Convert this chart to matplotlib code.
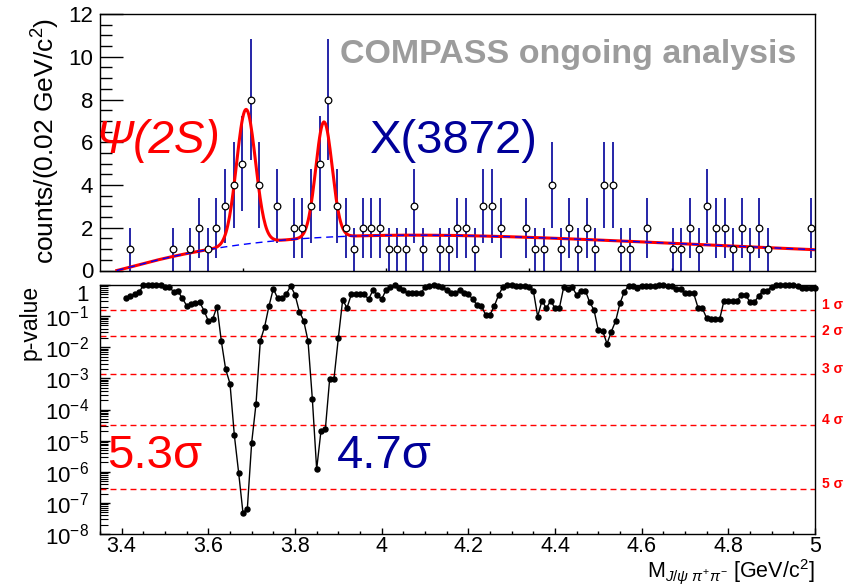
import numpy as np
import matplotlib
matplotlib.use("Agg")
import matplotlib.pyplot as plt
import matplotlib.transforms as mtransforms
from matplotlib.ticker import (FixedLocator, MultipleLocator, LogLocator,
                               NullFormatter, FormatStrFormatter)

plt.rcParams['font.family'] = 'Liberation Sans'
plt.rcParams['mathtext.fontset'] = 'custom'
plt.rcParams['mathtext.rm'] = 'Liberation Sans'
plt.rcParams['mathtext.it'] = 'Liberation Sans:italic'
plt.rcParams['mathtext.bf'] = 'Liberation Sans:bold'

# --- upper panel: J/psi pi+ pi- mass histogram (non-empty bins only) ---
bin_x = [3.42, 3.52, 3.56, 3.58, 3.60, 3.62, 3.64, 3.66, 3.68, 3.70,
         3.72, 3.76, 3.80, 3.82, 3.84, 3.86, 3.88, 3.90, 3.92, 3.94,
         3.96, 3.98, 4.00, 4.02, 4.04, 4.06, 4.08, 4.10, 4.14, 4.16,
         4.18, 4.20, 4.22, 4.24, 4.26, 4.28, 4.34, 4.36, 4.38, 4.40,
         4.42, 4.44, 4.46, 4.48, 4.50, 4.52, 4.54, 4.56, 4.58, 4.62,
         4.68, 4.70, 4.72, 4.74, 4.76, 4.78, 4.80, 4.82, 4.84, 4.86,
         4.88, 4.90, 5.00]
counts = [1, 1, 1, 2, 1, 2, 3, 4, 5, 8,
          4, 3, 2, 2, 3, 5, 8, 3, 2, 1,
          2, 2, 2, 1, 1, 1, 3, 1, 1, 1,
          2, 2, 1, 3, 3, 2, 2, 1, 1, 4,
          1, 2, 1, 2, 1, 4, 4, 1, 1, 2,
          1, 1, 2, 1, 3, 2, 2, 1, 2, 1,
          2, 1, 2]

# fit result: threshold background + two gaussians
bg_threshold = 3.389
bg_par = [7.23, 1.077, 1.559]
psi_par = [6.3, 3.689, 0.022]     # amplitude, mean, sigma
x3872_par = [5.4, 3.870, 0.019]

# --- lower panel: local p-value scan ---
scan_x = np.round(np.arange(3.41, 5.005, 0.01), 2)
p_value = [
    0.374, 0.445, 0.50, 0.58, 0.976, 0.976, 0.976, 0.976, 0.976, 0.885,   # 3.41-3.50
    0.84, 0.61, 0.63, 0.374, 0.218, 0.24, 0.26, 0.28, 0.151, 0.070,       # 3.51-3.60
    0.080, 0.203, 0.0157, 1.95e-3, 6.8e-4, 1.5e-5, 9.2e-7, 4.7e-8, 6.5e-8, 8.6e-6,  # 3.61-3.70
    1.5e-4, 0.0161, 0.046, 0.213, 0.76, 0.374, 0.374, 0.515, 0.93, 0.49,  # 3.71-3.80
    0.140, 0.072, 0.0161, 2.2e-4, 1.2e-6, 2.1e-5, 2.3e-5, 9.6e-4, 9.8e-4, 0.0197,  # 3.81-3.90
    0.33, 0.185, 0.50, 0.50, 0.50, 0.50, 0.348, 0.69, 0.48, 0.348,        # 3.91-4.00
    0.69, 0.885, 0.98, 0.78, 0.69, 0.54, 0.54, 0.54, 0.54, 0.84,          # 4.01-4.10
    0.93, 0.98, 0.93, 0.84, 0.69, 0.54, 0.54, 0.69, 0.54, 0.515,          # 4.11-4.20
    0.348, 0.23, 0.213, 0.11, 0.11, 0.213, 0.48, 0.885, 0.98, 0.98,       # 4.21-4.30
    0.95, 0.93, 0.93, 0.885, 0.66, 0.097, 0.315, 0.179, 0.315, 0.179,     # 4.31-4.40
    0.179, 0.84, 0.73, 0.84, 0.48, 0.66, 0.66, 0.28, 0.158, 0.0346,       # 4.41-4.50
    0.0337, 0.0129, 0.032, 0.070, 0.26, 0.61, 0.95, 0.93, 0.78, 0.93,     # 4.51-4.60
    0.95, 0.95, 0.95, 0.98, 0.98, 0.95, 0.93, 0.745, 0.73, 0.54,          # 4.61-4.70
    0.54, 0.54, 0.188, 0.179, 0.086, 0.082, 0.082, 0.080, 0.315, 0.315,   # 4.71-4.80
    0.315, 0.315, 0.48, 0.48, 0.28, 0.28, 0.445, 0.66, 0.66, 0.885,       # 4.81-4.90
    0.98, 0.98, 0.98, 0.98, 0.98, 0.95, 0.78, 0.78, 0.78, 0.78,           # 4.91-5.00
]
sigma_names = ['1', '2', '3', '4', '5']
sigma_p = [0.1587, 0.02275, 1.35e-3, 3.167e-5, 2.867e-7]

pval_ticks = [1e-8, 1e-7, 1e-6, 1e-5, 1e-4, 1e-3, 1e-2, 1e-1, 1]
pval_labels = [r'$10^{-8}$', r'$10^{-7}$', r'$10^{-6}$', r'$10^{-5}$',
               r'$10^{-4}$', r'$10^{-3}$', r'$10^{-2}$', r'$10^{-1}$', '1']

W, H = 850, 588
fig = plt.figure(figsize=(W / 100, H / 100), dpi=100)
ax1 = fig.add_axes([100 / W, 1 - 270.5 / H, 715 / W, 256.5 / H])
ax2 = fig.add_axes([100 / W, 1 - 534 / H, 715 / W, 249 / H])

def fxy(x, y):
    return x / W, 1 - y / H

# ---- upper panel ----
xb = np.array(bin_x)
nb = np.array(counts, dtype=float)
ax1.errorbar(xb, nb, yerr=np.sqrt(nb), xerr=0.007, fmt='none',
             ecolor='#000099', elinewidth=1.2, capsize=0, zorder=2)

xf = np.linspace(bg_threshold, 5.01, 800)
d = xf - bg_threshold
bg = bg_par[0] * d ** bg_par[1] * np.exp(-bg_par[2] * d)
gpsi = psi_par[0] * np.exp(-0.5 * ((xf - psi_par[1]) / psi_par[2]) ** 2)
gx = x3872_par[0] * np.exp(-0.5 * ((xf - x3872_par[1]) / x3872_par[2]) ** 2)
ax1.plot(xf, bg + gpsi + gx, color='#ff0000', lw=2.2, zorder=3)
ax1.plot(xf, bg, color='#0000ff', lw=1.0, ls=(0, (5, 3.5)), zorder=4)
ax1.plot(xb, nb, 'o', ms=4.8, mfc='white', mec='black', mew=0.9, zorder=5)

ax1.set_xlim(3.35, 5.01)
ax1.set_ylim(0, 12)
ax1.xaxis.set_major_locator(FixedLocator([3.682, 4.014, 4.346, 4.678]))
ax1.xaxis.set_major_formatter(NullFormatter())
ax1.yaxis.set_major_locator(MultipleLocator(2))
ax1.yaxis.set_minor_locator(MultipleLocator(0.5))
ax1.tick_params(axis='y', which='major', direction='in', length=16.5, width=1,
                labelsize=16, pad=5, right=False)
ax1.tick_params(axis='y', which='minor', direction='in', length=8.5, width=1, right=False)
ax1.tick_params(axis='x', which='major', direction='in', length=2.5, width=1, top=False)

fig.text(*fxy(46, 18), r'counts/(0.02 GeV/c$^{2}$)', rotation=90,
         ha='center', va='top', fontsize=19)

fig.text(*fxy(340, 63), 'COMPASS ongoing analysis', color='#9c9c9c',
         fontsize=24.5, fontweight='bold', ha='left', va='baseline')
fig.text(*fxy(95, 153), 'Ψ(2S)', color='#ff0000', fontsize=33,
         style='italic', ha='left', va='baseline')
fig.text(*fxy(370, 153), 'X(3872)', color='#000099', fontsize=34,
         ha='left', va='baseline')

# ---- lower panel ----
ax2.plot(scan_x, p_value, '-o', color='black', lw=1.0, ms=3.6, clip_on=False, zorder=4)
tr = mtransforms.blended_transform_factory(ax2.transAxes, ax2.transData)
for name, p in zip(sigma_names, sigma_p):
    ax2.axhline(p, color='#ff0000', lw=1.0, ls=(0, (4.3, 2.9)), zorder=2)
    ax2.annotate(name + ' σ', xy=(1.0, p), xycoords=tr, xytext=(5, 3.5),
                 textcoords='offset points', ha='left', va='center',
                 color='#ff0000', fontsize=10, fontweight='bold',
                 annotation_clip=False)

ax2.set_yscale('log')
ax2.set_xlim(3.35, 5.0)
ax2.set_ylim(1e-8, 1)
ax2.xaxis.set_major_locator(MultipleLocator(0.2))
ax2.xaxis.set_minor_locator(MultipleLocator(0.05))
ax2.xaxis.set_major_formatter(FormatStrFormatter('%g'))
ax2.set_yticks(pval_ticks)
ax2.set_yticklabels(pval_labels)
ax2.yaxis.set_minor_locator(LogLocator(base=10, subs=np.arange(2, 10), numticks=20))
ax2.yaxis.set_minor_formatter(NullFormatter())
ax2.tick_params(axis='y', which='major', direction='in', length=7.5, width=1,
                labelsize=16, pad=8, right=False)
ax2.tick_params(axis='y', which='minor', direction='in', length=5.5, width=0.8, right=False)
ax2.tick_params(axis='x', which='major', direction='in', length=4.5, width=1,
                labelsize=15.5, pad=1.5, top=False)
ax2.tick_params(axis='x', which='minor', direction='in', length=2.5, width=1, top=False)
# the "1" label sits a little below its tick, as in the original
ax2.yaxis.get_major_ticks()[-1].label1.set_va('top')
ax2.yaxis.get_major_ticks()[-1].label1.set_y(1)

fig.text(*fxy(30, 285), 'p-value', rotation=90, ha='center', va='top', fontsize=16.5)
fig.text(*fxy(815, 577.5), r'M$_{J/\psi\ \pi^{+}\pi^{-}}$ [GeV/c$^{2}$]',
         ha='right', va='baseline', fontsize=15.5)

fig.text(*fxy(107, 468), '5.3σ', color='#ff0000', fontsize=34,
         ha='left', va='baseline')
fig.text(*fxy(337, 468), '4.7σ', color='#000099', fontsize=34,
         ha='left', va='baseline')

for ax in (ax1, ax2):
    for s in ax.spines.values():
        s.set_linewidth(1.0)

fig.savefig('out.png', dpi=100)
